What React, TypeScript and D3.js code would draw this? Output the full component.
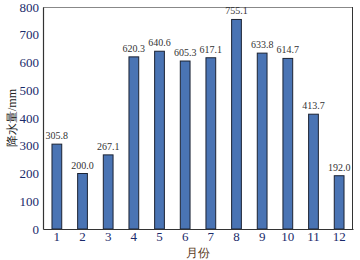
import React, { useEffect, useRef } from 'react';
import * as d3 from 'd3';

const months = ['1', '2', '3', '4', '5', '6', '7', '8', '9', '10', '11', '12'];
const rainfall = [305.8, 200.0, 267.1, 620.3, 640.6, 605.3, 617.1, 755.1, 633.8, 614.7, 413.7, 192.0];
const yTicks = [0, 100, 200, 300, 400, 500, 600, 700, 800];

const App = () => {
  const ref = useRef<SVGSVGElement>(null);

  useEffect(() => {
    const svg = d3.select(ref.current);
    svg.selectAll('*').remove();

    const margin = { top: 7, right: 7, bottom: 31, left: 43 };
    const width = 360, height = 260;
    const font = '"Liberation Serif", "Times New Roman", serif';

    const x = d3.scaleBand()
      .domain(months)
      .range([margin.left, width - margin.right])
      .paddingInner(0.62)
      .paddingOuter(0.35);

    const y = d3.scaleLinear()
      .domain([0, 800])
      .range([height - margin.bottom, margin.top]);

    // frame
    svg.append('line')
      .attr('x1', margin.left).attr('x2', width - margin.right)
      .attr('y1', margin.top + 0.5).attr('y2', margin.top + 0.5)
      .attr('stroke', '#888').attr('stroke-width', 1.2);
    svg.append('line')
      .attr('x1', width - margin.right - 0.5).attr('x2', width - margin.right - 0.5)
      .attr('y1', margin.top).attr('y2', height - margin.bottom)
      .attr('stroke', '#333').attr('stroke-width', 1);

    svg.selectAll('.bar')
      .data(rainfall)
      .enter().append('rect')
      .attr('class', 'bar')
      .attr('x', (d, i) => x(months[i]))
      .attr('y', d => y(d))
      .attr('width', x.bandwidth())
      .attr('height', d => y(0) - y(d))
      .attr('fill', '#4a74b4')
      .attr('stroke', '#1c2333')
      .attr('stroke-width', 1);

    svg.selectAll('.label')
      .data(rainfall)
      .enter().append('text')
      .attr('class', 'label')
      .attr('x', (d, i) => x(months[i]) + x.bandwidth() / 2)
      .attr('y', d => y(d) - 5)
      .attr('text-anchor', 'middle')
      .attr('font-family', font)
      .attr('font-size', 10)
      .attr('fill', '#333')
      .text(d => d.toFixed(1));

    const gx = svg.append('g')
      .attr('transform', `translate(0,${height - margin.bottom})`)
      .call(d3.axisBottom(x).tickSize(0).tickPadding(3));
    gx.select('.domain').attr('stroke', '#333').attr('stroke-width', 1.2);
    gx.selectAll('text')
      .attr('font-family', font).attr('font-size', 13).attr('fill', '#1a2a6a');

    const gy = svg.append('g')
      .attr('transform', `translate(${margin.left},0)`)
      .call(d3.axisLeft(y).tickValues(yTicks).tickSize(0).tickPadding(4));
    gy.select('.domain').attr('stroke', '#333').attr('stroke-width', 1.2);
    gy.selectAll('text')
      .attr('font-family', font).attr('font-size', 13).attr('fill', '#1a2a6a');

    svg.append('text')
      .attr('transform', `translate(12,${(margin.top + height - margin.bottom) / 2}) rotate(-90)`)
      .attr('text-anchor', 'middle')
      .attr('dominant-baseline', 'central')
      .attr('font-family', font)
      .attr('font-size', 12)
      .attr('fill', '#222')
      .text('降水量/mm');

    svg.append('text')
      .attr('x', (margin.left + width - margin.right) / 2)
      .attr('y', 257)
      .attr('text-anchor', 'middle')
      .attr('font-family', font)
      .attr('font-size', 12)
      .attr('fill', '#5a3a1a')
      .text('月份');
  }, []);

  return <svg ref={ref} width={360} height={260} style={{ position: 'absolute', left: 0, top: 0 }} />;
};

export default App;
